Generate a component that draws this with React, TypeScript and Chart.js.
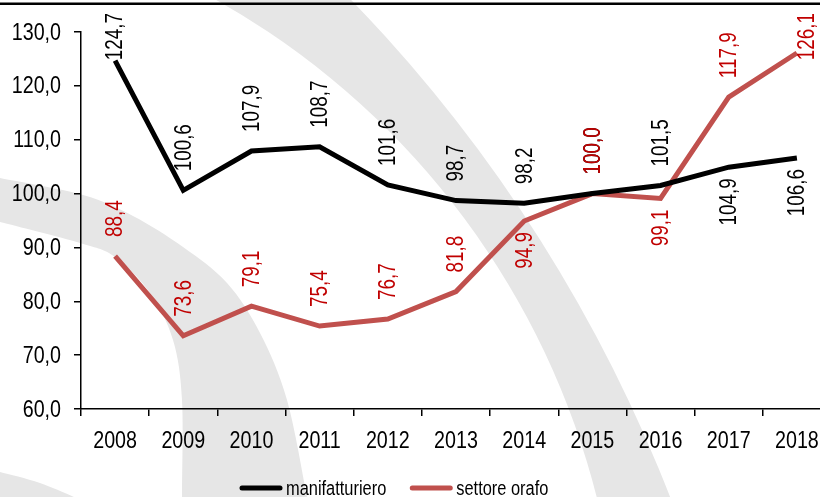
import React, { useEffect, useRef } from 'react';
import { Chart, registerables } from 'chart.js';

Chart.register(...registerables);

// ---- data ----
const years = ['2008', '2009', '2010', '2011', '2012', '2013', '2014', '2015', '2016', '2017', '2018'];
const manifatturiero = [124.7, 100.6, 107.9, 108.7, 101.6, 98.7, 98.2, 100.0, 101.5, 104.9, 106.6];
const settoreOrafo = [88.4, 73.6, 79.1, 75.4, 76.7, 81.8, 94.9, 100.0, 99.1, 117.9, 126.1];
const yTicks = [60, 70, 80, 90, 100, 110, 120, 130];
const seriesNames = ['manifatturiero', 'settore orafo'];
// label placement: 'a' = above the point, 'b' = below
const labelSideManif = ['a', 'a', 'a', 'a', 'a', 'a', 'a', 'a', 'a', 'b', 'b'];
const labelSideOrafo = ['a', 'a', 'a', 'a', 'a', 'a', 'b', 'a', 'b', 'a', 'a'];
// horizontal nudges of individual labels (px)
const labelNudgeManif = [0, 0, 0, 0, 0, 0, 0, 0, 0, 0, 0];
const labelNudgeOrafo = [0, 0, 0, 0, 0, 0, 0, 0, 0, 0, 10];

const FONT = "'Liberation Sans', Arial, sans-serif";
const SQUEEZE = 0.82; // emulate a narrow face
const BLACK = '#000000';
const RED = '#C0504D';
const RED_TEXT = '#C00000';
const W = 850;
const H = 497;

const fmt = (v: number) => v.toFixed(1).replace('.', ',');

function narrowText(
  ctx: CanvasRenderingContext2D,
  text: string,
  x: number,
  y: number,
  size: number,
  align: CanvasTextAlign,
  baseline: CanvasTextBaseline,
  color: string,
  rotate = false
) {
  ctx.save();
  ctx.font = `${size}px ${FONT}`;
  ctx.fillStyle = color;
  ctx.textAlign = align;
  ctx.textBaseline = baseline;
  ctx.translate(x, y);
  if (rotate) ctx.rotate(-Math.PI / 2);
  ctx.scale(SQUEEZE, 1);
  ctx.fillText(text, 0, 0);
  ctx.restore();
}

function narrowWidth(ctx: CanvasRenderingContext2D, text: string, size: number) {
  ctx.save();
  ctx.font = `${size}px ${FONT}`;
  const w = ctx.measureText(text).width * SQUEEZE;
  ctx.restore();
  return w;
}

function smoothPath(ctx: CanvasRenderingContext2D, pts: number[][], move: boolean) {
  if (move) ctx.moveTo(pts[0][0], pts[0][1]);
  else ctx.lineTo(pts[0][0], pts[0][1]);
  for (let i = 0; i < pts.length - 1; i++) {
    const p0 = pts[i - 1] || pts[i];
    const p1 = pts[i];
    const p2 = pts[i + 1];
    const p3 = pts[i + 2] || p2;
    ctx.bezierCurveTo(
      p1[0] + (p2[0] - p0[0]) / 6, p1[1] + (p2[1] - p0[1]) / 6,
      p2[0] - (p3[0] - p1[0]) / 6, p2[1] - (p3[1] - p1[1]) / 6,
      p2[0], p2[1]
    );
  }
}

const backgroundPlugin = {
  id: 'bgWatermark',
  beforeDraw(chart: any) {
    const ctx: CanvasRenderingContext2D = chart.ctx;
    ctx.save();
    ctx.fillStyle = '#ffffff';
    ctx.fillRect(0, 0, chart.width, chart.height);
    ctx.fillStyle = '#e6e6e6';
    // big swoosh
    ctx.beginPath();
    ctx.arc(-721, 1039, 1493, 0, Math.PI * 2);
    ctx.moveTo(-173 + 794, 692);
    ctx.arc(-173, 692, 794, 0, Math.PI * 2);
    ctx.fill('evenodd');
    // left swoosh
    ctx.beginPath();
    smoothPath(ctx, [[-10, 176], [0, 178], [83, 195], [133, 216], [183, 247], [227, 283], [260, 333], [287, 400], [307, 497], [309, 510]], true);
    smoothPath(ctx, [[183, 510], [182, 497], [182, 400], [173, 340], [150, 293], [115, 257], [80, 243], [0, 222], [-10, 220]], false);
    ctx.closePath();
    ctx.fill();
    // bottom-left corner
    ctx.beginPath();
    smoothPath(ctx, [[-10, 469], [0, 472], [40, 483], [80, 500], [82, 505]], true);
    ctx.lineTo(-10, 505);
    ctx.closePath();
    ctx.fill();
    // top rule
    ctx.fillStyle = '#000000';
    ctx.fillRect(0, 2.5, chart.width, 2.5);
    ctx.restore();
  },
};

const axisLabelsPlugin = {
  id: 'axisLabels',
  afterDraw(chart: any) {
    const ctx: CanvasRenderingContext2D = chart.ctx;
    const xs = chart.scales.x;
    const ys = chart.scales.y;
    yTicks.forEach((v) => {
      narrowText(ctx, fmt(v), ys.right - 20, ys.getPixelForValue(v) + 1, 24, 'right', 'middle', '#000000');
    });
    years.forEach((yr, i) => {
      narrowText(ctx, yr, xs.getPixelForValue(i), xs.top + 39, 24, 'center', 'alphabetic', '#000000');
    });
  },
};

const labelsPlugin = {
  id: 'vlabels',
  afterDatasetsDraw(chart: any) {
    const ctx: CanvasRenderingContext2D = chart.ctx;
    const sets = [
      { idx: 0, vals: manifatturiero, sides: labelSideManif, nudge: labelNudgeManif, color: BLACK },
      { idx: 1, vals: settoreOrafo, sides: labelSideOrafo, nudge: labelNudgeOrafo, color: RED_TEXT },
    ];
    const size = 23;
    for (const s of sets) {
      const meta = chart.getDatasetMeta(s.idx);
      meta.data.forEach((pt: any, i: number) => {
        const text = fmt(s.vals[i]);
        const w = narrowWidth(ctx, text, size);
        const x = pt.x + 1 + s.nudge[i];
        if (s.sides[i] === 'a') {
          let start = pt.y - 19;
          if (start - w < 13) start = 13 + w;
          narrowText(ctx, text, x, start, size, 'left', 'middle', s.color, true);
        } else {
          narrowText(ctx, text, x, pt.y + 11, size, 'right', 'middle', s.color, true);
        }
      });
    }
  },
};

const legendPlugin = {
  id: 'lineLegend',
  afterDraw(chart: any) {
    const ctx: CanvasRenderingContext2D = chart.ctx;
    let x = 240;
    const colors = [BLACK, RED];
    seriesNames.forEach((name, i) => {
      ctx.save();
      ctx.strokeStyle = colors[i];
      ctx.lineWidth = 5;
      ctx.lineCap = 'round';
      ctx.beginPath();
      ctx.moveTo(x + 2, 488);
      ctx.lineTo(x + 40, 488);
      ctx.stroke();
      ctx.restore();
      narrowText(ctx, name, x + 46, 495, 20, 'left', 'alphabetic', '#000000');
      x += 46 + narrowWidth(ctx, name, 20) + 24;
    });
  },
};

export default function App() {
  const ref = useRef<HTMLCanvasElement | null>(null);

  useEffect(() => {
    if (!ref.current) return;
    const chart = new Chart(ref.current, {
      type: 'line',
      data: {
        labels: years,
        datasets: [
          {
            label: seriesNames[0],
            data: manifatturiero,
            borderColor: BLACK,
            backgroundColor: BLACK,
            borderWidth: 5,
            pointRadius: 0,
            tension: 0,
          },
          {
            label: seriesNames[1],
            data: settoreOrafo,
            borderColor: RED,
            backgroundColor: RED,
            borderWidth: 5,
            pointRadius: 0,
            tension: 0,
          },
        ],
      },
      options: {
        responsive: false,
        animation: false,
        devicePixelRatio: 1,
        layout: { padding: { top: 32, right: 19, left: 0, bottom: 0 } },
        plugins: {
          legend: { display: false },
          tooltip: { enabled: false },
          title: { display: false },
        },
        scales: {
          x: {
            type: 'category',
            offset: true,
            grid: {
              offset: true,
              drawOnChartArea: false,
              drawTicks: true,
              tickLength: 7,
              color: '#000000',
              lineWidth: 1.5,
            },
            border: { display: true, color: '#000000', width: 1.5 },
            ticks: { display: false, autoSkip: false },
            afterFit: (scale: any) => {
              scale.height = 88;
            },
          },
          y: {
            min: 60,
            max: 130,
            grid: {
              drawOnChartArea: false,
              drawTicks: true,
              tickLength: 7,
              color: '#000000',
              lineWidth: 1.5,
            },
            border: { display: true, color: '#000000', width: 1.5 },
            ticks: { display: false },
            afterBuildTicks: (scale: any) => {
              scale.ticks = yTicks.map((v) => ({ value: v }));
            },
            afterFit: (scale: any) => {
              scale.width = 81;
            },
          },
        },
      },
      plugins: [backgroundPlugin, labelsPlugin, axisLabelsPlugin, legendPlugin],
    } as any);
    return () => chart.destroy();
  }, []);

  return (
    <div style={{ position: 'fixed', left: 0, top: 0, width: 820, height: 497, overflow: 'hidden', background: '#fff' }}>
      <canvas ref={ref} width={W} height={H} style={{ width: W, height: H, display: 'block' }} />
    </div>
  );
}
